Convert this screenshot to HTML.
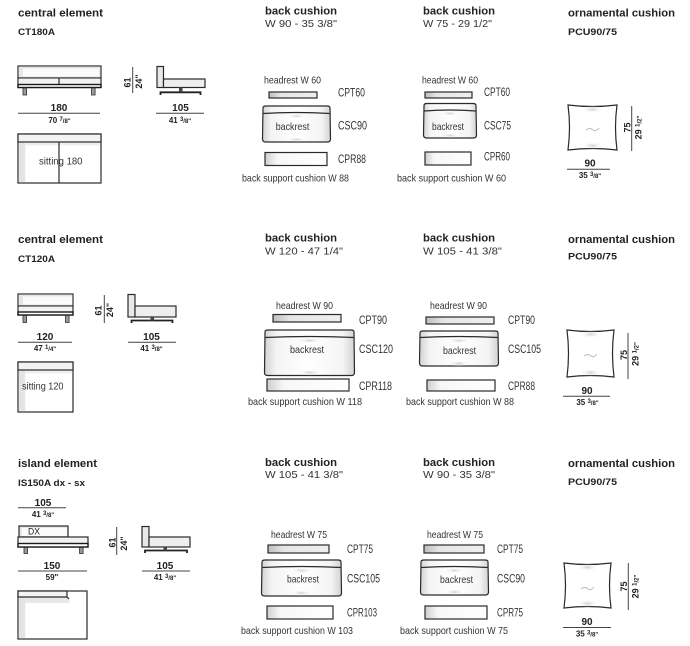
<!DOCTYPE html>
<html><head><meta charset="utf-8"><style>
html,body{margin:0;padding:0;background:#fff;}
svg{display:block;}
text{font-family:"Liberation Sans",Arial,sans-serif;fill:#222;}
.h{font-weight:bold;font-size:11px;}
.c{font-weight:bold;font-size:9px;}
.w{font-size:10.5px;fill:#333;}
.l{font-size:10.5px;fill:#333;}
.lb{font-size:12px;fill:#333;}
.d{font-weight:bold;font-size:10px;text-anchor:middle;}
.f{font-weight:bold;font-size:8px;text-anchor:middle;}
.o{stroke:#2a2a2a;stroke-width:1.2;}
.dl{stroke:#444;stroke-width:1;}
</style></head><body>
<svg width="690" height="646" viewBox="0 0 690 646" xmlns="http://www.w3.org/2000/svg">
<defs>
<linearGradient id="gH" x1="0" x2="1" y1="0" y2="0">
<stop offset="0" stop-color="#d2d2d2"/><stop offset=".13" stop-color="#f4f4f4"/><stop offset=".5" stop-color="#fff"/><stop offset=".87" stop-color="#f4f4f4"/><stop offset="1" stop-color="#d2d2d2"/>
</linearGradient>
<linearGradient id="gHead" x1="0" x2="1" y1="0" y2="0">
<stop offset="0" stop-color="#bdbdbd"/><stop offset=".25" stop-color="#e6e6e6"/><stop offset="1" stop-color="#efefef"/>
</linearGradient>
<linearGradient id="gSup" x1="0" x2="1" y1="0" y2="0">
<stop offset="0" stop-color="#cfcfcf"/><stop offset=".2" stop-color="#f7f7f7"/><stop offset="1" stop-color="#fff"/>
</linearGradient>
<radialGradient id="gR"><stop offset="0" stop-color="#cfcfcf"/><stop offset="1" stop-color="#fff" stop-opacity="0"/></radialGradient>
</defs>

<!-- ================= ROW 1 ================= -->
<text class="h" x="18" y="16.5" textLength="85" lengthAdjust="spacingAndGlyphs">central element</text>
<text class="c" x="18" y="35" textLength="37" lengthAdjust="spacingAndGlyphs">CT180A</text>

<rect x="18" y="66" width="83" height="21.5" fill="#fff" class="o"/>
<rect x="18.6" y="66.6" width="81.8" height="11" fill="#e6e6e6"/>
<rect x="23" y="68.5" width="76" height="8" fill="#fbfbfb"/>
<line x1="18" y1="78" x2="101" y2="78" class="o"/>
<rect x="19" y="78.6" width="81" height="5.5" fill="#f2f2f2"/>
<line x1="59" y1="78" x2="59" y2="84.5" class="o"/>
<rect x="18" y="84.5" width="83" height="3" fill="#fff" stroke="#1a1a1a" stroke-width="1.4"/>
<rect x="23" y="88" width="3.6" height="7" fill="#999" stroke="#333" stroke-width=".8"/>
<rect x="91.5" y="88" width="3.6" height="7" fill="#999" stroke="#333" stroke-width=".8"/>
<line x1="132.7" y1="67" x2="132.7" y2="93" class="dl"/>
<text class="c" transform="translate(130.5,82.5) rotate(-90)" text-anchor="middle" font-size="8.5">61</text>
<text class="c" transform="translate(142,81.5) rotate(-90)" text-anchor="middle" font-size="8">24"</text>
<rect x="157" y="66.5" width="6.5" height="21" fill="#e8e8e8" class="o"/>
<rect x="163.5" y="79" width="41.5" height="8.5" fill="#eee" class="o"/>
<path d="M160.5,95 L160.5,92.3 L200.5,92.3 L200.5,95" fill="none" stroke="#222" stroke-width="1.8"/>
<rect x="179" y="87.5" width="3.5" height="4.5" fill="#444"/>
<text class="d" x="59" y="111">180</text>
<line x1="18" y1="113.3" x2="100" y2="113.3" class="dl"/>
<text class="f" x="59.5" y="123">70 <tspan font-size="6" dy="-2">7</tspan><tspan font-size="6" dy="2">/8"</tspan></text>
<text class="d" x="180.5" y="111">105</text>
<line x1="156" y1="113.3" x2="204" y2="113.3" class="dl"/>
<text class="f" x="180" y="123">41 <tspan font-size="6" dy="-2">3</tspan><tspan font-size="6" dy="2">/8"</tspan></text>
<rect x="18" y="134" width="83" height="49" fill="#fff" class="o" stroke-width="1.4"/>
<rect x="18.7" y="142" width="6.5" height="40.3" fill="#e4e4e4"/>
<rect x="25.2" y="142" width="75" height="3.5" fill="#efefef"/>
<rect x="18" y="134" width="83" height="8" fill="#f3f3f3" class="o"/>
<line x1="59" y1="142" x2="59" y2="183" class="o" stroke-width="1.4"/>
<text class="l" x="39" y="164.5" font-size="11" textLength="43.5" lengthAdjust="spacingAndGlyphs">sitting 180</text>

<text class="h" x="265" y="14.5" textLength="72" lengthAdjust="spacingAndGlyphs">back cushion</text>
<text class="w" x="265" y="27" textLength="72" lengthAdjust="spacingAndGlyphs">W 90 - 35 3/8"</text>
<text class="l" x="264" y="83.3" textLength="57" lengthAdjust="spacingAndGlyphs">headrest W 60</text>
<rect x="269" y="92" width="48" height="6" fill="url(#gHead)" class="o"/>
<text class="lb" x="338" y="96.5" textLength="27" lengthAdjust="spacingAndGlyphs">CPT60</text>
<path d="M263,108 Q263,106 266,106 L327,106 Q330,106 330,108 L330.5,139 Q330.5,142 327.5,142 L265.5,142 Q262.5,142 262.5,139 Z" fill="url(#gH)" class="o"/>
<ellipse cx="296.5" cy="116" rx="10" ry="2.5" fill="url(#gR)"/>
<ellipse cx="296.5" cy="139.5" rx="10" ry="2.5" fill="url(#gR)"/>
<path d="M263,113.5 Q296.5,111.5 330,113.5" fill="none" class="o"/>
<text class="l" x="275.7" y="130" textLength="33.6" lengthAdjust="spacingAndGlyphs">backrest</text>
<text class="lb" x="338" y="129.5" textLength="29" lengthAdjust="spacingAndGlyphs">CSC90</text>
<rect x="265" y="152.5" width="62" height="13" fill="url(#gSup)" class="o"/>
<text class="lb" x="338" y="163" textLength="28" lengthAdjust="spacingAndGlyphs">CPR88</text>
<text class="l" x="242" y="181.5" textLength="107" lengthAdjust="spacingAndGlyphs">back support cushion W 88</text>

<text class="h" x="423" y="14.5" textLength="72" lengthAdjust="spacingAndGlyphs">back cushion</text>
<text class="w" x="423" y="27" textLength="69" lengthAdjust="spacingAndGlyphs">W 75 - 29 1/2"</text>
<text class="l" x="422" y="83.3" textLength="56" lengthAdjust="spacingAndGlyphs">headrest W 60</text>
<rect x="425" y="92" width="47" height="6" fill="url(#gHead)" class="o"/>
<text class="lb" x="484" y="96" textLength="26" lengthAdjust="spacingAndGlyphs">CPT60</text>
<path d="M424,105.5 Q424,103.5 427,103.5 L473,103.5 Q476,103.5 476,105.5 L476.5,135 Q476.5,138 473.5,138 L426.5,138 Q423.5,138 423.5,135 Z" fill="url(#gH)" class="o"/>
<ellipse cx="450" cy="113.5" rx="9" ry="2.5" fill="url(#gR)"/>
<ellipse cx="450" cy="135.5" rx="9" ry="2.5" fill="url(#gR)"/>
<path d="M424,111 Q450,109 476,111" fill="none" class="o"/>
<text class="l" x="432" y="130" textLength="32" lengthAdjust="spacingAndGlyphs">backrest</text>
<text class="lb" x="484" y="129.5" textLength="27" lengthAdjust="spacingAndGlyphs">CSC75</text>
<rect x="425" y="152" width="46" height="13" fill="url(#gSup)" class="o"/>
<text class="lb" x="484" y="160.5" textLength="26" lengthAdjust="spacingAndGlyphs">CPR60</text>
<text class="l" x="397" y="181.5" textLength="109" lengthAdjust="spacingAndGlyphs">back support cushion W 60</text>

<text class="h" x="568" y="16.5" textLength="107" lengthAdjust="spacingAndGlyphs">ornamental cushion</text>
<text class="c" x="568" y="35" textLength="49" lengthAdjust="spacingAndGlyphs">PCU90/75</text>
<path d="M568,105 Q592.5,108 617,105 Q614,127.5 617,150 Q592.5,147 568,150 Q571,127.5 568,105 Z" fill="#fff" class="o"/>
<ellipse cx="592.5" cy="109.5" rx="11" ry="3.5" fill="url(#gR)"/>
<ellipse cx="592.5" cy="145.5" rx="11" ry="3.5" fill="url(#gR)"/>
<path d="M586,130 q4,-3 7,0 q3,2 6,-2" fill="none" stroke="#bbb" stroke-width="1"/>
<line x1="631.7" y1="106" x2="631.7" y2="151" class="dl"/>
<text class="c" transform="translate(630.5,127.5) rotate(-90)" text-anchor="middle" font-size="8.5">75</text>
<text class="c" transform="translate(641.5,127.5) rotate(-90)" text-anchor="middle" font-size="8">29 <tspan font-size="6" dy="-2">1</tspan><tspan font-size="6" dy="2">/2"</tspan></text>
<text class="d" x="590" y="166.7">90</text>
<line x1="567" y1="169.3" x2="610" y2="169.3" class="dl"/>
<text class="f" x="590" y="178">35 <tspan font-size="6" dy="-2">3</tspan><tspan font-size="6" dy="2">/8"</tspan></text>

<!-- ================= ROW 2 ================= -->
<text class="h" x="18" y="243" textLength="85" lengthAdjust="spacingAndGlyphs">central element</text>
<text class="c" x="18" y="262" textLength="37" lengthAdjust="spacingAndGlyphs">CT120A</text>

<rect x="18" y="294" width="55" height="21" fill="#fff" class="o"/>
<rect x="18.6" y="294.6" width="53.8" height="11" fill="#e6e6e6"/>
<rect x="23" y="296.5" width="49" height="8" fill="#fbfbfb"/>
<line x1="18" y1="306" x2="73" y2="306" class="o"/>
<rect x="19" y="306.6" width="53" height="5.4" fill="#f2f2f2"/>
<rect x="18" y="312" width="55" height="3" fill="#fff" stroke="#1a1a1a" stroke-width="1.4"/>
<rect x="23" y="315.5" width="3.6" height="7" fill="#999" stroke="#333" stroke-width=".8"/>
<rect x="65.5" y="315.5" width="3.6" height="7" fill="#999" stroke="#333" stroke-width=".8"/>
<line x1="104.3" y1="295" x2="104.3" y2="323" class="dl"/>
<text class="c" transform="translate(101.5,310.5) rotate(-90)" text-anchor="middle" font-size="8.5">61</text>
<text class="c" transform="translate(113,310) rotate(-90)" text-anchor="middle" font-size="8">24"</text>
<rect x="128" y="294.5" width="7" height="22.5" fill="#e8e8e8" class="o"/>
<rect x="135" y="306" width="41" height="11" fill="#eee" class="o"/>
<path d="M131.5,323 L131.5,320.5 L172.5,320.5 L172.5,323" fill="none" stroke="#222" stroke-width="1.8"/>
<rect x="150.5" y="317" width="3.5" height="3.5" fill="#444"/>
<text class="d" x="45" y="340">120</text>
<line x1="18" y1="342.3" x2="72" y2="342.3" class="dl"/>
<text class="f" x="45" y="351">47 <tspan font-size="6" dy="-2">1</tspan><tspan font-size="6" dy="2">/4"</tspan></text>
<text class="d" x="151.5" y="340">105</text>
<line x1="128" y1="342.3" x2="176" y2="342.3" class="dl"/>
<text class="f" x="151.5" y="351">41 <tspan font-size="6" dy="-2">3</tspan><tspan font-size="6" dy="2">/8"</tspan></text>
<rect x="18" y="362" width="55" height="50" fill="#fff" class="o" stroke-width="1.4"/>
<rect x="18.7" y="370" width="6.5" height="41.3" fill="#e4e4e4"/>
<rect x="25.2" y="370" width="47" height="3.5" fill="#efefef"/>
<rect x="18" y="362" width="55" height="8" fill="#f3f3f3" class="o"/>
<text class="l" x="22" y="389.5" font-size="11" textLength="41.5" lengthAdjust="spacingAndGlyphs">sitting 120</text>

<text class="h" x="265" y="241.5" textLength="72" lengthAdjust="spacingAndGlyphs">back cushion</text>
<text class="w" x="265" y="254.5" textLength="78" lengthAdjust="spacingAndGlyphs">W 120 - 47 1/4"</text>
<text class="l" x="276" y="309" textLength="57" lengthAdjust="spacingAndGlyphs">headrest W 90</text>
<rect x="273" y="314.5" width="68" height="7.5" fill="url(#gHead)" class="o"/>
<text class="lb" x="359" y="324" textLength="28" lengthAdjust="spacingAndGlyphs">CPT90</text>
<path d="M265,332 Q265,330 268,330 L351,330 Q354,330 354,332 L354.5,372.5 Q354.5,375.5 351.5,375.5 L267.5,375.5 Q264.5,375.5 264.5,372.5 Z" fill="url(#gH)" class="o"/>
<ellipse cx="309.5" cy="340.5" rx="12" ry="3" fill="url(#gR)"/>
<ellipse cx="309.5" cy="372.5" rx="12" ry="3" fill="url(#gR)"/>
<path d="M265,337.5 Q309.5,335.5 354,337.5" fill="none" class="o"/>
<text class="l" x="290" y="353" textLength="34" lengthAdjust="spacingAndGlyphs">backrest</text>
<text class="lb" x="359" y="353" textLength="34" lengthAdjust="spacingAndGlyphs">CSC120</text>
<rect x="267" y="379" width="82" height="12" fill="url(#gSup)" class="o"/>
<text class="lb" x="359" y="390" textLength="33" lengthAdjust="spacingAndGlyphs">CPR118</text>
<text class="l" x="248" y="405" textLength="114" lengthAdjust="spacingAndGlyphs">back support cushion W 118</text>

<text class="h" x="423" y="241.5" textLength="72" lengthAdjust="spacingAndGlyphs">back cushion</text>
<text class="w" x="423" y="254.5" textLength="79" lengthAdjust="spacingAndGlyphs">W 105 - 41 3/8"</text>
<text class="l" x="430" y="309" textLength="57" lengthAdjust="spacingAndGlyphs">headrest W 90</text>
<rect x="426" y="317" width="68" height="7" fill="url(#gHead)" class="o"/>
<text class="lb" x="508" y="324" textLength="27" lengthAdjust="spacingAndGlyphs">CPT90</text>
<path d="M420,333 Q420,331 423,331 L495,331 Q498,331 498,333 L498.5,363 Q498.5,366 495.5,366 L422.5,366 Q419.5,366 419.5,363 Z" fill="url(#gH)" class="o"/>
<ellipse cx="459" cy="340.5" rx="11" ry="3" fill="url(#gR)"/>
<ellipse cx="459" cy="363.5" rx="11" ry="3" fill="url(#gR)"/>
<path d="M420,337.5 Q459,335.5 498,337.5" fill="none" class="o"/>
<text class="l" x="443" y="354" textLength="33" lengthAdjust="spacingAndGlyphs">backrest</text>
<text class="lb" x="508" y="353" textLength="33" lengthAdjust="spacingAndGlyphs">CSC105</text>
<rect x="427" y="380" width="68" height="11" fill="url(#gSup)" class="o"/>
<text class="lb" x="508" y="390" textLength="27" lengthAdjust="spacingAndGlyphs">CPR88</text>
<text class="l" x="406" y="405" textLength="108" lengthAdjust="spacingAndGlyphs">back support cushion W 88</text>

<text class="h" x="568" y="243" textLength="107" lengthAdjust="spacingAndGlyphs">ornamental cushion</text>
<text class="c" x="568" y="259.3" textLength="49" lengthAdjust="spacingAndGlyphs">PCU90/75</text>
<path d="M567,330 Q590.5,333 614,330 Q611,353.5 614,377 Q590.5,374 567,377 Q570,353.5 567,330 Z" fill="#fff" class="o"/>
<ellipse cx="590.5" cy="334.5" rx="11" ry="3.5" fill="url(#gR)"/>
<ellipse cx="590.5" cy="372.5" rx="11" ry="3.5" fill="url(#gR)"/>
<path d="M584,356 q4,-3 7,0 q3,2 6,-2" fill="none" stroke="#bbb" stroke-width="1"/>
<line x1="628" y1="333" x2="628" y2="379" class="dl"/>
<text class="c" transform="translate(627,355) rotate(-90)" text-anchor="middle" font-size="8.5">75</text>
<text class="c" transform="translate(638.5,354) rotate(-90)" text-anchor="middle" font-size="8">29 <tspan font-size="6" dy="-2">1</tspan><tspan font-size="6" dy="2">/2"</tspan></text>
<text class="d" x="587" y="394">90</text>
<line x1="563" y1="396.3" x2="610" y2="396.3" class="dl"/>
<text class="f" x="587.5" y="405">35 <tspan font-size="6" dy="-2">3</tspan><tspan font-size="6" dy="2">/8"</tspan></text>

<!-- ================= ROW 3 ================= -->
<text class="h" x="18" y="467" textLength="79" lengthAdjust="spacingAndGlyphs">island element</text>
<text class="c" x="18" y="486" textLength="67" lengthAdjust="spacingAndGlyphs">IS150A dx - sx</text>

<text class="d" x="43" y="506">105</text>
<line x1="18" y1="507.7" x2="66" y2="507.7" class="dl"/>
<text class="f" x="43" y="517">41 <tspan font-size="6" dy="-2">3</tspan><tspan font-size="6" dy="2">/8"</tspan></text>

<rect x="19" y="526" width="49" height="11" fill="#e6e6e6" class="o"/>
<rect x="22" y="528" width="45" height="8" fill="#fbfbfb"/>
<text x="28" y="534.5" font-size="9.5" fill="#222" textLength="12" lengthAdjust="spacingAndGlyphs">DX</text>
<rect x="18" y="537" width="70" height="10" fill="#f2f2f2" class="o"/>
<rect x="18" y="543.5" width="70" height="3.5" fill="#fff" stroke="#1a1a1a" stroke-width="1.4"/>
<rect x="24" y="547.5" width="3.6" height="6" fill="#999" stroke="#333" stroke-width=".8"/>
<rect x="79.5" y="547.5" width="3.6" height="6" fill="#999" stroke="#333" stroke-width=".8"/>
<line x1="116.7" y1="527" x2="116.7" y2="555" class="dl"/>
<text class="c" transform="translate(115.5,542.5) rotate(-90)" text-anchor="middle" font-size="8.5">61</text>
<text class="c" transform="translate(127,543.5) rotate(-90)" text-anchor="middle" font-size="8">24"</text>
<rect x="142" y="526.5" width="7" height="20.5" fill="#e8e8e8" class="o"/>
<rect x="149" y="537" width="41" height="10" fill="#eee" class="o"/>
<path d="M145,553 L145,550.5 L187,550.5 L187,553" fill="none" stroke="#222" stroke-width="1.8"/>
<rect x="163.5" y="547" width="3.5" height="3.5" fill="#444"/>
<text class="d" x="52" y="569">150</text>
<line x1="18" y1="571" x2="87" y2="571" class="dl"/>
<text class="f" x="52" y="580">59"</text>
<text class="d" x="165" y="569">105</text>
<line x1="142" y1="571" x2="190" y2="571" class="dl"/>
<text class="f" x="165" y="580">41 <tspan font-size="6" dy="-2">3</tspan><tspan font-size="6" dy="2">/8"</tspan></text>
<rect x="18" y="591" width="69" height="48" fill="#fff" class="o" stroke-width="1.4"/>
<rect x="18.7" y="597" width="6.5" height="41.3" fill="#e4e4e4"/>
<rect x="25.2" y="597" width="44" height="6" fill="#e8e8e8"/>
<path d="M18,591 L67,591 L67,597 L18,597 Z" fill="#f3f3f3" class="o"/>
<line x1="67" y1="597" x2="69" y2="599" class="o"/>

<text class="h" x="265" y="466" textLength="72" lengthAdjust="spacingAndGlyphs">back cushion</text>
<text class="w" x="265" y="478" textLength="78" lengthAdjust="spacingAndGlyphs">W 105 - 41 3/8"</text>
<text class="l" x="271" y="538" textLength="56" lengthAdjust="spacingAndGlyphs">headrest W 75</text>
<rect x="268" y="545" width="61" height="8" fill="url(#gHead)" class="o"/>
<text class="lb" x="347" y="553" textLength="26" lengthAdjust="spacingAndGlyphs">CPT75</text>
<path d="M262,562 Q262,560 265,560 L338,560 Q341,560 341,562 L341.5,593 Q341.5,596 338.5,596 L264.5,596 Q261.5,596 261.5,593 Z" fill="url(#gH)" class="o"/>
<ellipse cx="301.5" cy="570.5" rx="11" ry="3" fill="url(#gR)"/>
<ellipse cx="301.5" cy="593" rx="11" ry="3" fill="url(#gR)"/>
<path d="M262,567.5 Q301.5,565.5 341,567.5" fill="none" class="o"/>
<text class="l" x="287" y="582.5" textLength="32" lengthAdjust="spacingAndGlyphs">backrest</text>
<text class="lb" x="347" y="582.5" textLength="33" lengthAdjust="spacingAndGlyphs">CSC105</text>
<rect x="267" y="606" width="66" height="13" fill="url(#gSup)" class="o"/>
<text class="lb" x="347" y="616.5" textLength="30" lengthAdjust="spacingAndGlyphs">CPR103</text>
<text class="l" x="241" y="634" textLength="112" lengthAdjust="spacingAndGlyphs">back support cushion W 103</text>

<text class="h" x="423" y="466" textLength="72" lengthAdjust="spacingAndGlyphs">back cushion</text>
<text class="w" x="423" y="478" textLength="72" lengthAdjust="spacingAndGlyphs">W 90 - 35 3/8"</text>
<text class="l" x="427" y="538" textLength="56" lengthAdjust="spacingAndGlyphs">headrest W 75</text>
<rect x="424" y="545" width="60" height="8" fill="url(#gHead)" class="o"/>
<text class="lb" x="497" y="553" textLength="26" lengthAdjust="spacingAndGlyphs">CPT75</text>
<path d="M421,562 Q421,560 424,560 L485,560 Q488,560 488,562 L488.5,592 Q488.5,595 485.5,595 L423.5,595 Q420.5,595 420.5,592 Z" fill="url(#gH)" class="o"/>
<ellipse cx="454.5" cy="570.5" rx="10" ry="3" fill="url(#gR)"/>
<ellipse cx="454.5" cy="592" rx="10" ry="3" fill="url(#gR)"/>
<path d="M421,567.5 Q454.5,565.5 488,567.5" fill="none" class="o"/>
<text class="l" x="440" y="583" textLength="33" lengthAdjust="spacingAndGlyphs">backrest</text>
<text class="lb" x="497" y="582.5" textLength="28" lengthAdjust="spacingAndGlyphs">CSC90</text>
<rect x="425" y="606" width="62" height="13" fill="url(#gSup)" class="o"/>
<text class="lb" x="497" y="616.5" textLength="26" lengthAdjust="spacingAndGlyphs">CPR75</text>
<text class="l" x="400" y="634" textLength="108" lengthAdjust="spacingAndGlyphs">back support cushion W 75</text>

<text class="h" x="568" y="467" textLength="107" lengthAdjust="spacingAndGlyphs">ornamental cushion</text>
<text class="c" x="568" y="485" textLength="49" lengthAdjust="spacingAndGlyphs">PCU90/75</text>
<path d="M564,563 Q587.5,566 611,563 Q608,585.5 611,608 Q587.5,605 564,608 Q567,585.5 564,563 Z" fill="#fff" class="o"/>
<ellipse cx="587.5" cy="567.5" rx="11" ry="3.5" fill="url(#gR)"/>
<ellipse cx="587.5" cy="603.5" rx="11" ry="3.5" fill="url(#gR)"/>
<path d="M581,589 q4,-3 7,0 q3,2 6,-2" fill="none" stroke="#bbb" stroke-width="1"/>
<line x1="628.3" y1="563" x2="628.3" y2="610" class="dl"/>
<text class="c" transform="translate(627,586.5) rotate(-90)" text-anchor="middle" font-size="8.5">75</text>
<text class="c" transform="translate(638.5,586.5) rotate(-90)" text-anchor="middle" font-size="8">29 <tspan font-size="6" dy="-2">1</tspan><tspan font-size="6" dy="2">/2"</tspan></text>
<text class="d" x="587" y="625">90</text>
<line x1="563" y1="627.5" x2="611" y2="627.5" class="dl"/>
<text class="f" x="587" y="636.5">35 <tspan font-size="6" dy="-2">3</tspan><tspan font-size="6" dy="2">/8"</tspan></text>
</svg>
</body></html>
